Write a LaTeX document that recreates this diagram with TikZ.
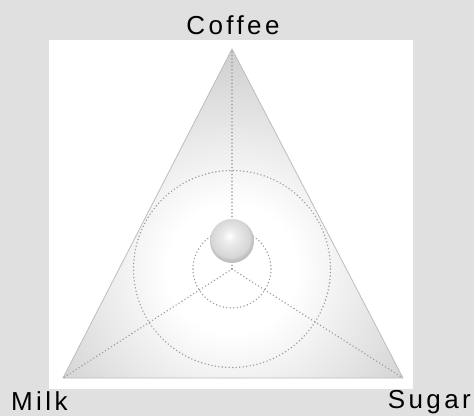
\documentclass[tikz,border=0pt]{standalone}
\usepackage{fontspec}
\setmainfont{Liberation Sans}
\newfontfamily\labfont[LetterSpace=13]{Liberation Sans}
\usetikzlibrary{shadings}
\definecolor{bggray}{HTML}{E0E0E0}
\definecolor{trigray}{HTML}{D0D0D0}
\definecolor{edgegray}{HTML}{BDBDBD}
\definecolor{dotgray}{HTML}{9C9C9C}
\definecolor{ballrim}{HTML}{D6D6D6}
\definecolor{ballmid}{HTML}{EBEBEB}
\pgfdeclareradialshading{triglow}{\pgfpoint{0bp}{0bp}}{%
  color(0bp)=(white); color(6.7bp)=(white); color(22.5bp)=(trigray); color(50bp)=(trigray)}
\pgfdeclareradialshading{sphere}{\pgfpoint{-3bp}{6bp}}{%
  color(0bp)=(white); color(8bp)=(ballmid); color(22bp)=(ballrim); color(25bp)=(ballrim!90!black); color(50bp)=(ballrim!90!black)}
\tikzset{
  guide/.style={draw=dotgray, line width=1.6pt, dash pattern=on 0pt off 3.5pt, line cap=round},
  lab/.style={font=\labfont\fontsize{26}{28}\selectfont, inner sep=0pt}
}
\begin{document}
\begin{tikzpicture}[x=1pt,y=-1pt]
  \fill[bggray] (0,0) rectangle (474,416);
  \useasboundingbox (0,0) rectangle (474,416);
  \fill[white] (49,40) rectangle (413,389);
  \coordinate (C) at (232,49);
  \coordinate (M) at (63,378);
  \coordinate (S) at (403,378);
  \coordinate (O) at (232,269);
  \begin{scope}
    \clip (C) -- (M) -- (S) -- cycle;
    \shade[shading=triglow] (O) circle (240);
  \end{scope}
  \draw[edgegray, line width=0.8pt, line join=round] (C) -- (M) -- (S) -- cycle;
  \draw[guide] (O) circle (98.5);
  \draw[guide] (O) circle (39);
  \draw[guide] (O) -- (C);
  \draw[guide] (O) -- (M);
  \draw[guide] (O) -- (S);
  \shade[shading=sphere] (232,241) circle (22);
  \node[lab] (coffee) at (233,25) {Coffee};
  \node[lab, anchor=west] (milk) at (11,401) {Milk};
  \node[lab, anchor=east] (sugar) at (471,402) {Sugar};
\end{tikzpicture}
\end{document}
